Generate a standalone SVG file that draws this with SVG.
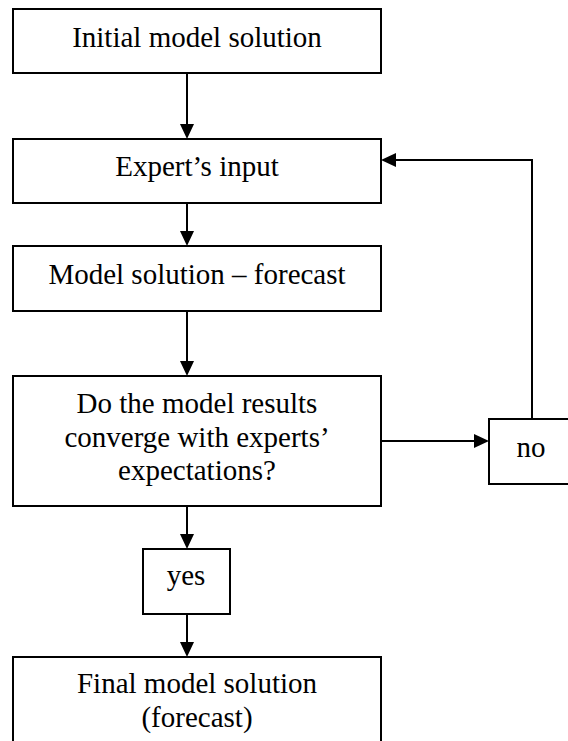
<svg xmlns="http://www.w3.org/2000/svg" width="568" height="741" viewBox="0 0 568 741">
<style>
.box{fill:#fff;stroke:#000;stroke-width:2}
.lbl{font-family:'Liberation Serif','DejaVu Serif','Times New Roman',serif;font-size:29px;fill:#000;text-anchor:middle}
.con{fill:none;stroke:#000;stroke-width:2}
</style>
<defs>
<marker id="ah" markerUnits="userSpaceOnUse" markerWidth="16" markerHeight="15" refX="5" refY="7" orient="auto">
<path d="M0,0 L15,7 L0,14 z" fill="#000"/>
</marker>
</defs>
<rect width="568" height="741" fill="#fff"/>
<g id="connectors">
<line class="con" x1="187" y1="73" x2="187" y2="129" marker-end="url(#ah)"/>
<line class="con" x1="187" y1="203" x2="187" y2="236" marker-end="url(#ah)"/>
<line class="con" x1="187" y1="311" x2="187" y2="366" marker-end="url(#ah)"/>
<line class="con" x1="187" y1="506" x2="187" y2="539" marker-end="url(#ah)"/>
<line class="con" x1="187" y1="614" x2="187" y2="647" marker-end="url(#ah)"/>
<line class="con" x1="381" y1="441" x2="479" y2="441" marker-end="url(#ah)"/>
<polyline class="con" points="532,419 532,160 391,160" marker-end="url(#ah)"/>
</g>
<g id="initial">
<rect class="box" x="13" y="9" width="368" height="64"/>
<text class="lbl" x="197" y="47" font-family="Liberation Serif, serif">Initial model solution</text>
</g>
<g id="expert">
<rect class="box" x="13" y="139" width="368" height="64"/>
<text class="lbl" x="197" y="176">Expert’s input</text>
</g>
<g id="forecast">
<rect class="box" x="13" y="246" width="368" height="65"/>
<text class="lbl" x="197" y="284">Model solution – forecast</text>
</g>
<g id="decision">
<rect class="box" x="13" y="376" width="368" height="130"/>
<text class="lbl" x="197" y="413">Do the model results</text>
<text class="lbl" x="197" y="447">converge with experts’</text>
<text class="lbl" x="197" y="480">expectations?</text>
</g>
<g id="no">
<rect class="box" x="489" y="419" width="86" height="65"/>
<text class="lbl" x="531" y="457">no</text>
</g>
<g id="yes">
<rect class="box" x="143" y="549" width="87" height="65"/>
<text class="lbl" x="186" y="585">yes</text>
</g>
<g id="final">
<rect class="box" x="13" y="657" width="368" height="100"/>
<text class="lbl" x="197" y="693">Final model solution</text>
<text class="lbl" x="197" y="727">(forecast)</text>
</g>
</svg>
